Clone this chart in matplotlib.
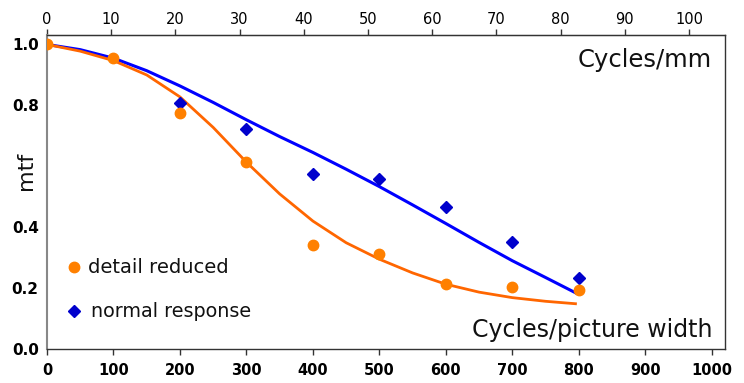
import matplotlib
matplotlib.use("Agg")
import matplotlib.pyplot as plt

# measured points
meas_x = [0, 100, 200, 300, 400, 500, 600, 700, 800]
detail_reduced = [1.0, 0.957, 0.775, 0.614, 0.343, 0.314, 0.214, 0.206, 0.196]
normal_x = [200, 300, 400, 500, 600, 700, 800]
normal_response = [0.807, 0.722, 0.575, 0.559, 0.467, 0.353, 0.235]

# fitted curves
curve_x = [0, 50, 100, 150, 200, 250, 300, 350, 400, 450, 500, 550, 600, 650, 700, 750, 795]
normal_curve = [1.0, 0.983, 0.955, 0.914, 0.864, 0.810, 0.753, 0.698, 0.646, 0.591, 0.534,
                0.474, 0.413, 0.351, 0.291, 0.236, 0.186]
reduced_curve = [1.0, 0.978, 0.947, 0.900, 0.828, 0.728, 0.614, 0.510, 0.421, 0.350, 0.296,
                 0.251, 0.214, 0.188, 0.170, 0.158, 0.150]

bottom_ticks = [0, 100, 200, 300, 400, 500, 600, 700, 800, 900, 1000]
top_ticks = [0, 10, 20, 30, 40, 50, 60, 70, 80, 90, 100]
y_ticks = [0.0, 0.2, 0.4, 0.8, 1.0]
y_ticklabels = ["0.0", "0.2", "0.4", "0.8", "1.0"]
factor = 9.66  # cycles/picture width per cycles/mm

plt.rcParams['font.family'] = ['DejaVu Sans']

fig = plt.figure(figsize=(7.44, 3.83), dpi=100)
ax = fig.add_axes([0.0632, 0.0875, 0.9113, 0.8211])

blue_line = '#0000ff'
blue_pt = '#0000cc'
orange_line = '#ff6600'
orange_pt = '#ff8000'

ax.plot(curve_x, normal_curve, color=blue_line, lw=2.2, zorder=2, solid_joinstyle='round')
ax.plot(curve_x, reduced_curve, color=orange_line, lw=2.0, zorder=2, solid_joinstyle='round')
ax.plot(normal_x, normal_response, linestyle='none', marker='D', ms=6.3,
        color=blue_pt, zorder=3)
ax.plot(meas_x, detail_reduced, linestyle='none', marker='o', ms=7.5,
        color=orange_pt, zorder=4)

ax.set_xlim(0, 1020)
ax.set_ylim(0, 1.031)

ax.set_xticks(bottom_ticks)
ax.set_xticklabels([str(t) for t in bottom_ticks], fontsize=10.5, fontweight='bold')
ax.set_yticks(y_ticks)
ax.set_yticklabels(y_ticklabels, fontsize=11, fontweight='bold')
ax.tick_params(axis='x', direction='out', length=4, width=1, color='#333333', pad=6)
ax.tick_params(axis='y', length=0, pad=6)

for s in ['bottom', 'top', 'right']:
    ax.spines[s].set_color('#333333')
    ax.spines[s].set_linewidth(1.0)
ax.spines['left'].set_color('#888888')
ax.spines['left'].set_linewidth(1.5)

top = ax.secondary_xaxis('top', functions=(lambda x: x / factor, lambda x: x * factor))
top.set_xticks(top_ticks)
top.set_xticklabels([str(t) for t in top_ticks], fontsize=10.5)
top.tick_params(direction='out', length=4, width=1, color='#333333', pad=2)
top.spines['top'].set_color('#333333')

fig.text(0.035, 0.553, 'mtf', rotation=90, fontsize=16, ha='center', va='center',
         color='#111111')

fig.text(0.957, 0.843, 'Cycles/mm', fontsize=17.5, ha='right', va='center',
         color='#111111')
fig.text(0.957, 0.138, 'Cycles/picture width', fontsize=17, ha='right', va='center',
         color='#111111')

# legend
ax.plot([40], [0.27], marker='o', ms=7.5, color=orange_pt, linestyle='none', clip_on=False)
ax.text(62, 0.27, 'detail reduced', fontsize=14, va='center', color='#111111')
ax.plot([40], [0.125], marker='D', ms=6.3, color=blue_pt, linestyle='none', clip_on=False)
ax.text(66, 0.125, 'normal response', fontsize=13.8, va='center', color='#111111')

fig.savefig('out.png', dpi=100)
